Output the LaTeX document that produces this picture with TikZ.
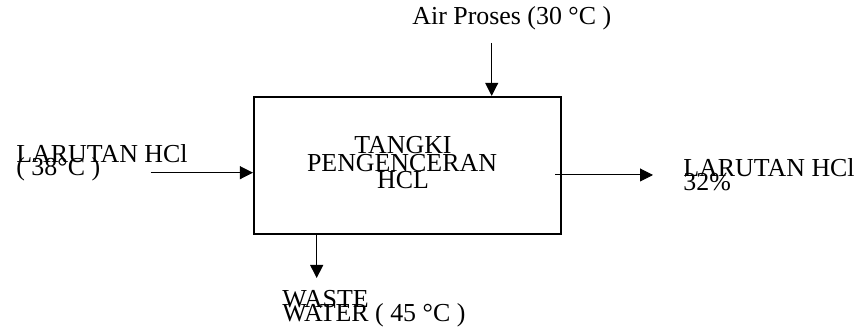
\documentclass[tikz,border=0pt]{standalone}
\usepackage{fontspec}
\setmainfont{Liberation Serif}
\usetikzlibrary{arrows.meta}
\begin{document}
\begin{tikzpicture}[x=0.5pt,y=-0.5pt,
  lbl/.style={inner sep=0pt,font=\fontsize{12.95}{13}\selectfont},
  flow/.style={line width=0.5pt,-{Triangle[width=6.5pt,length=6.5pt]}},
  tankbox/.style={draw,line width=1.1pt,inner sep=0pt,minimum width=153.5pt,minimum height=68.5pt}]
\useasboundingbox (0,0) rectangle (864,330);
% tank
\node[tankbox] (tank) at (407.5,165.5) {};
\node[lbl,anchor=base] (t1) at (403,154) {TANGKI};
\node[lbl,anchor=base] (t2) at (402,171.7) {PENGENCERAN};
\node[lbl,anchor=base] (t3) at (403,188.7) {HCL};
% labels
\node[lbl,anchor=base west] (air) at (412,25) {Air Proses (30 °C )};
\node[lbl,anchor=base west] (in1) at (16,163) {LARUTAN HCl};
\node[lbl,anchor=base west] (in2) at (16,176) {( 38°C )};
\node[lbl,anchor=base west] (out1) at (683,177) {LARUTAN HCl};
\node[lbl,anchor=base west] (out2) at (683,191) {32\%};
\node[lbl,anchor=base west] (w1) at (282,308) {WASTE};
\node[lbl,anchor=base west] (w2) at (282,322) {WATER ( 45 °C )};
% connector ends
\coordinate (airend) at (491.7,43);
\coordinate (inend) at (150.7,172.7);
\coordinate (outstart) at (555,175);
\coordinate (outend) at (653,175);
\coordinate (wasteend) at (316.7,278);
% connectors
\draw[flow] (airend) -- (airend |- tank.north);
\draw[flow] (inend) -- (inend -| tank.west);
\draw[flow] (outstart) -- (outend);
\draw[flow] (wasteend |- tank.south) -- (wasteend);
\end{tikzpicture}
\end{document}
